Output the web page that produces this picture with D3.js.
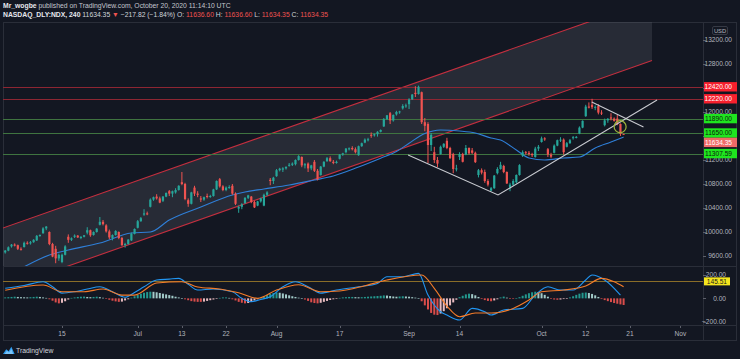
<!DOCTYPE html>
<html>
<head>
<meta charset="utf-8">
<script src="https://cdn.jsdelivr.net/npm/d3@7/dist/d3.min.js"></script>
<style>
  html, body { margin: 0; padding: 0; background: #131722; }
  svg { display: block; font-family: "Liberation Sans", Arial, sans-serif; }
</style>
</head>
<body>
<div id="chart"></div>
<script>
// NASDAQ_DLY:NDX, 240 min bars, Jun 2 – Oct 20 2020 (two bars per session)
const candles = [
  [9660,9700,9640,9690],[9690,9760,9680,9745],
  [9760,9800,9740,9790],[9790,9810,9760,9785],
  [9780,9790,9700,9720],[9720,9745,9690,9710],
  [9750,9840,9740,9820],[9820,9845,9790,9815],
  [9810,9850,9790,9830],[9830,9880,9820,9870],
  [9860,9950,9850,9935],[9935,9960,9920,9950],
  [9980,10080,9970,10060],[10060,10100,10030,10090],
  [10000,10010,9780,9800],[9800,9820,9580,9590],
  [9720,9770,9480,9560],[9560,9640,9520,9620],
  [9500,9640,9480,9620],[9620,9780,9610,9760],
  [9920,9960,9820,9870],[9870,9910,9850,9895],
  [9920,9960,9900,9940],[9940,9950,9900,9910],
  [9900,9930,9880,9920],[9920,9950,9910,9945],
  [9990,10080,9960,10030],[10030,10040,9920,9945],
  [9950,10010,9940,10000],[10000,10065,9990,10056],
  [10120,10250,10110,10170],[10170,10200,10110,10131],
  [10110,10130,9990,10010],[10010,10040,9880,9910],
  [9900,9960,9860,9950],[9950,10030,9940,10017],
  [10000,10010,9880,9900],[9900,9920,9770,9780],
  [9790,9820,9740,9800],[9800,9880,9790,9874],
  [9860,9990,9850,9970],[9970,10060,9960,10050],
  [10070,10200,10060,10180],[10180,10250,10170,10230],
  [10290,10380,10270,10310],[10310,10340,10280,10300],
  [10420,10560,10410,10540],[10540,10590,10520,10580],
  [10590,10630,10540,10560],[10560,10590,10480,10490],
  [10520,10600,10500,10590],[10590,10660,10580,10650],
  [10680,10700,10600,10640],[10640,10690,10580,10680],
  [10660,10730,10640,10700],[10700,10780,10690,10770],
  [10830,11000,10780,10800],[10800,10820,10530,10550],
  [10530,10560,10420,10470],[10470,10670,10460,10660],
  [10740,10770,10600,10640],[10640,10680,10580,10620],
  [10560,10600,10500,10540],[10540,10590,10520,10580],
  [10600,10640,10560,10590],[10590,10620,10570,10600],
  [10600,10720,10590,10710],[10710,10860,10700,10850],
  [10880,10900,10740,10760],[10760,10780,10680,10700],
  [10700,10760,10680,10740],[10740,10780,10720,10750],
  [10770,10800,10620,10640],[10640,10660,10450,10470],
  [10390,10440,10320,10420],[10420,10480,10380,10460],
  [10480,10580,10470,10570],[10570,10620,10550,10610],
  [10590,10600,10480,10500],[10500,10520,10400,10410],
  [10440,10520,10430,10510],[10510,10570,10490,10560],
  [10440,10640,10430,10620],[10620,10680,10600,10660],
  [10870,10900,10780,10850],[10850,10920,10800,10905],
  [10930,11050,10920,11030],[11030,11070,11010,11055],
  [11040,11080,11000,11060],[11060,11095,11040,11085],
  [11110,11150,11090,11120],[11120,11160,11100,11140],
  [11130,11210,11110,11200],[11200,11280,11190,11265],
  [11250,11260,11080,11110],[11110,11150,11060,11130],
  [11140,11160,11000,11060],[11060,11120,11030,11110],
  [11170,11200,11000,11020],[11020,11050,10860,10880],
  [10950,11100,10940,11090],[11090,11180,11080,11170],
  [11180,11250,11170,11230],[11230,11260,11170,11180],
  [11170,11200,11130,11150],[11150,11190,11140,11170],
  [11220,11300,11210,11290],[11290,11320,11270,11310],
  [11330,11400,11310,11390],[11390,11410,11360,11395],
  [11400,11430,11360,11380],[11380,11410,11310,11330],
  [11280,11440,11270,11430],[11430,11490,11420,11480],
  [11490,11560,11480,11540],[11540,11570,11510,11545],
  [11620,11660,11570,11610],[11610,11640,11590,11630],
  [11630,11680,11590,11670],[11670,11710,11660,11700],
  [11760,11900,11750,11880],[11880,11950,11870,11945],
  [11980,12000,11800,11860],[11860,11960,11840,11950],
  [11960,12020,11940,12000],[12000,12020,11970,12010],
  [12060,12130,12040,12100],[12100,12140,12070,12110],
  [12130,12230,12050,12210],[12210,12300,12200,12290],
  [12320,12430,12250,12300],[12300,12440,12290,12420],
  [12330,12340,11800,11830],[11830,11900,11680,11770],
  [11800,11830,11150,11450],[11450,11650,11350,11620],
  [11330,11420,11150,11200],[11200,11250,11080,11140],
  [11300,11440,11290,11420],[11420,11480,11400,11470],
  [11520,11570,11380,11400],[11400,11420,11220,11230],
  [11300,11320,10980,11050],[11050,11120,11010,11060],
  [11250,11330,11200,11300],[11300,11320,11160,11170],
  [11290,11450,11280,11400],[11400,11410,11290,11310],
  [11360,11400,11300,11320],[11320,11340,11150,11165],
  [10950,11050,10910,11030],[11030,11060,10960,10990],
  [11000,11040,10820,10850],[10850,10880,10760,10790],
  [10690,10750,10677,10730],[10730,10950,10720,10940],
  [10980,11080,10960,11050],[11050,11170,11040,11120],
  [11100,11120,10980,11000],[11000,11010,10800,10810],
  [10740,10820,10680,10790],[10790,10880,10770,10850],
  [10830,10960,10810,10950],[10950,11130,10940,11115],
  [11270,11360,11250,11330],[11330,11350,11290,11325],
  [11320,11350,11270,11300],[11300,11320,11250,11280],
  [11250,11420,11240,11390],[11390,11450,11350,11420],
  [11500,11590,11490,11560],[11560,11580,11520,11550],
  [11380,11400,11250,11290],[11290,11320,11230,11255],
  [11320,11460,11310,11440],[11440,11540,11430,11530],
  [11540,11580,11500,11540],[11540,11560,11290,11330],
  [11420,11500,11410,11480],[11480,11550,11470,11530],
  [11570,11600,11540,11580],[11580,11600,11560,11585],
  [11640,11760,11630,11740],[11740,11860,11730,11853],
  [11930,12120,11920,12090],[12090,12160,12060,12088],
  [12120,12220,12050,12080],[12080,12110,12030,12086],
  [12100,12130,11960,11990],[11990,12030,11950,11980],
  [11780,11890,11760,11860],[11860,11900,11820,11886],
  [11910,11980,11860,11890],[11890,11910,11840,11852],
  [11890,11950,11780,11800],[11800,11810,11600,11634.35],
  [11636.6,11636.6,11634.35,11634.35]
];

// moving average: [bar, price]
const maPoints = [
  [6,9420],[14,9617],[20,9700],[30,9817],[40,9983],[46,10000],[52,10200],
  [62,10417],[72,10617],[76,10667],[82,10717],[90,10783],[98,10867],[104,10933],
  [112,11083],[119,11230],[124,11340],[128,11480],[133,11640],[138,11700],
  [144,11683],[149,11650],[154,11567],[157,11533],[162,11367],[166,11233],
  [171,11200],[177,11233],[182,11250],[187,11400],[192,11500],[196,11583]
];

// MACD pane: [bar, value]
const macdLine = [
  [0,86],[6,110],[12,142],[15,100],[18,45],[22,57],[26,80],[30,99],[34,57],[38,9],
  [41,50],[44,99],[48,157],[52,165],[55,171],[58,120],[61,71],[66,80],[72,57],[75,0],
  [78,-29],[81,-10],[84,14],[88,99],[92,142],[96,99],[100,45],[105,71],[112,99],
  [118,128],[121,185],[126,185],[131,214],[134,28],[138,-115],[140,-143],[144,-186],
  [148,-86],[152,-115],[154,-143],[158,-100],[164,-86],[168,28],[172,99],[176,71],
  [180,71],[184,157],[186,200],[190,157],[195,28]
];
const signalLine = [
  [0,70],[12,114],[18,57],[25,57],[31,80],[37,28],[41,28],[48,131],[56,142],[61,97],
  [68,80],[74,48],[80,0],[86,71],[93,117],[100,57],[106,63],[114,108],[121,157],
  [132,200],[136,86],[140,-66],[144,-157],[149,-126],[154,-126],[161,-86],[166,-14],
  [170,57],[177,71],[184,106],[189,171],[193,142],[196,99]
];
const histogram = [
  8,10,12,14,12,10,9,8,10,12,14,12,8,4,
  -8,-20,-35,-43,-38,-25,-10,
  4,8,12,14,15,12,10,12,14,10,5,
  -5,-12,-20,-26,-30,-28,-18,-8,
  6,18,30,40,48,54,57,56,52,46,40,34,28,22,14,8,2,
  -8,-16,-24,-28,-30,-30,-28,-22,-16,-10,-4,
  4,8,8,4,
  -8,-18,-30,-38,-43,-40,-30,-18,-8,
  6,16,28,38,45,50,48,42,34,26,18,12,6,2,
  -10,-22,-34,-40,-43,-38,-30,-22,-14,-8,-3,
  4,8,10,12,12,10,9,10,12,14,16,18,20,22,25,24,20,16,14,16,18,16,14,10,6,2,
  -25,-60,-95,-125,-140,-143,-130,-110,-85,-60,-35,-12,
  10,22,34,40,36,26,12,
  -6,-15,-22,-25,-18,-8,
  8,15,
  6,-4,-5,2,
  10,22,34,44,52,57,54,44,30,14,
  -4,-10,-12,-10,-6,-2,
  8,18,30,40,48,50,46,38,26,12,
  -6,-15,-24,-32,-40,-46,-52,-57
];
const macdLevel = 145.51;

// drawings: [bar, price]
const channelUpper = [[-2,10043],[205,13873]];
const channelLower = [[-2,9027],[205,12857]];
const trendV = [[127.7,11283],[156.2,10617],[206.6,12200]];
const trendDown = [[185.9,12167],[202.3,11750]];
const circleAt = [194.9,11755];

// horizontal levels
const levelPrices = [12420, 12220, 11890, 11650, 11307.59];
const levelKinds = ['res','res','sup','sup','sup'];
const lastPrice = 11634.35;

// axes
const priceTicks = [9600,10000,10400,10800,11200,11600,12000,12400,12800,13200];
const macdTicks = [-200, 0, 200];
const timeTickBars = [18,42,56,70,86,106,128,144,170,184,198,214];
const timeTickLabels = ['15','Jul','13','22','Aug','17','Sep','14','Oct','12','21','Nov'];

// header
const ohlcNames = ['O','H','L','C'];
const ohlcValues = ['11636.60','11636.60','11634.35','11634.35'];

const W = 740, H = 359;
const L = 3, R = 703, FR = 737;
const paneTop = 22, paneBottom = 266, macdTop = 267, macdBottom = 325, axisBottom = 341;

const bg = '#131722', frame = '#2a2e39', textCol = '#b2b5be';
const upCol = '#26a69a', downCol = '#ef5350';

const svg = d3.select('#chart').append('svg').attr('width', W).attr('height', H);
svg.append('rect').attr('width', W).attr('height', H).attr('fill', bg);

const x = d3.scaleLinear().domain([0, 196]).range([5.2, 623.6]);
const y = d3.scaleLinear().domain([9600, 13200]).range([256, 40]);
const ym = d3.scaleLinear().domain([-200, 200]).range([321.7, 275]);

const defs = svg.append('defs');
defs.append('clipPath').attr('id', 'priceClip').append('rect')
  .attr('x', L).attr('y', paneTop).attr('width', R - L).attr('height', paneBottom - paneTop);
defs.append('clipPath').attr('id', 'macdClip').append('rect')
  .attr('x', L).attr('y', macdTop).attr('width', R - L).attr('height', macdBottom - macdTop);

// frame
svg.append('rect').attr('x', L + 0.5).attr('y', paneTop + 0.5)
  .attr('width', FR - L - 1).attr('height', axisBottom - paneTop - 1)
  .attr('fill', 'none').attr('stroke', frame);
svg.append('line').attr('x1', R + 0.5).attr('x2', R + 0.5).attr('y1', paneTop).attr('y2', axisBottom)
  .attr('stroke', frame);
[paneBottom + 0.5, macdBottom + 0.5].forEach(v => {
  svg.append('line').attr('x1', L).attr('x2', FR).attr('y1', v).attr('y2', v).attr('stroke', frame);
});

// ---------- price pane ----------
const pp = svg.append('g').attr('clip-path', 'url(#priceClip)');
const px = d => x(d[0]), py = d => y(d[1]);

// parallel channel
const chanPoly = channelUpper.concat(channelLower.slice().reverse());
pp.append('path').attr('d', d3.line().x(px).y(py)(chanPoly) + 'Z')
  .attr('fill', 'rgba(120,123,134,0.2)');
[channelUpper, channelLower].forEach(seg => {
  pp.append('path').attr('d', d3.line().x(px).y(py)(seg))
    .attr('fill', 'none').attr('stroke', '#c42f3f').attr('stroke-width', 1.1);
});

// horizontal levels
const levelStyle = { res: '#8e2633', sup: '#3f7440' };
pp.selectAll('.lvl').data(levelPrices).enter().append('line')
  .attr('x1', L).attr('x2', R)
  .attr('y1', d => Math.round(y(d)) + 0.5).attr('y2', d => Math.round(y(d)) + 0.5)
  .attr('stroke', (d, i) => levelStyle[levelKinds[i]]).attr('stroke-width', 1);

// moving average
pp.append('path').datum(maPoints)
  .attr('d', d3.line().x(px).y(py).curve(d3.curveMonotoneX))
  .attr('fill', 'none').attr('stroke', '#2f7fd8').attr('stroke-width', 1.1);

// candles
const cg = pp.append('g');
cg.selectAll('.wick').data(candles).enter().append('rect')
  .attr('x', (d, i) => x(i) - 0.5).attr('width', 1)
  .attr('y', d => y(d[1])).attr('height', d => Math.max(1, y(d[2]) - y(d[1])))
  .attr('fill', d => d[3] >= d[0] ? upCol : downCol);
cg.selectAll('.body').data(candles).enter().append('rect')
  .attr('x', (d, i) => x(i) - 1.1).attr('width', 2.2)
  .attr('y', d => y(Math.max(d[0], d[3])))
  .attr('height', d => Math.max(1, Math.abs(y(d[0]) - y(d[3]))))
  .attr('fill', d => d[3] >= d[0] ? upCol : downCol);

// trend lines
[trendV, trendDown].forEach(seg => {
  pp.append('path').attr('d', d3.line().x(px).y(py)(seg))
    .attr('fill', 'none').attr('stroke', '#c9cbd1').attr('stroke-width', 1.1);
});
pp.append('circle').attr('cx', x(circleAt[0])).attr('cy', y(circleAt[1])).attr('r', 6)
  .attr('fill', 'none').attr('stroke', '#9fb43c').attr('stroke-width', 1.2);

// level labels with simple collision push-down
const boxH = 9.4;
const labelStyle = {
  res: { fill: '#f7202d', text: '#ffffff' },
  sup: { fill: '#1fe51f', text: '#0b1a0b' },
  last: { fill: '#ef6a67', text: '#ffffff' }
};
const labels = levelPrices.map((p, i) => ({ p, kind: levelKinds[i], txt: d3.format('.2f')(p) }))
  .concat([{ p: lastPrice, kind: 'last', txt: d3.format('.2f')(lastPrice) }])
  .sort((a, b) => b.p - a.p);
let prevBottom = -Infinity;
labels.forEach(l => {
  let cy = y(l.p);
  if (cy - boxH / 2 < prevBottom) cy = prevBottom + boxH / 2;
  l.cy = cy;
  prevBottom = cy + boxH / 2;
});

// price axis (tick texts mostly hidden under a label are skipped)
const visibleTicks = priceTicks.filter(t => !labels.some(l => Math.abs(y(t) - l.cy) < 5));
const ax = svg.append('g').style('font-size', '6.6px');
ax.selectAll('.pt').data(visibleTicks).enter().append('text')
  .attr('x', 732).attr('y', d => y(d)).attr('dy', '0.35em')
  .attr('text-anchor', 'end').attr('fill', textCol).text(d => d3.format('.2f')(d));
ax.selectAll('.ptk').data(priceTicks).enter().append('line')
  .attr('x1', R).attr('x2', R + 3).attr('y1', d => Math.round(y(d)) + 0.5).attr('y2', d => Math.round(y(d)) + 0.5)
  .attr('stroke', '#5d606b');

// USD box
svg.append('rect').attr('x', 712.5).attr('y', 26.5).attr('width', 15).attr('height', 8).attr('rx', 1.5)
  .attr('fill', bg).attr('stroke', '#363a45');
svg.append('text').attr('x', 720).attr('y', 30.5).attr('dy', '0.35em').attr('text-anchor', 'middle')
  .attr('fill', textCol).style('font-size', '5.8px').text('USD');

const lg = svg.append('g').style('font-size', '6.6px');
lg.selectAll('rect').data(labels).enter().append('rect')
  .attr('x', R + 1).attr('y', d => d.cy - boxH / 2).attr('width', FR - R - 1).attr('height', boxH)
  .attr('fill', d => labelStyle[d.kind].fill);
lg.selectAll('text').data(labels).enter().append('text')
  .attr('x', 732).attr('y', d => d.cy).attr('dy', '0.35em').attr('text-anchor', 'end')
  .attr('fill', d => labelStyle[d.kind].text).text(d => d.txt);

// ---------- MACD pane ----------
const mp = svg.append('g').attr('clip-path', 'url(#macdClip)');
const hColor = (v, i) => {
  const prev = i > 0 ? histogram[i - 1] : v;
  if (v >= 0) return v >= prev ? '#26a69a' : '#b2dfdb';
  return v <= prev ? '#ef5350' : '#ffcdd2';
};
mp.selectAll('.hist').data(histogram).enter().append('rect')
  .attr('x', (d, i) => x(i) - 1).attr('width', 2)
  .attr('y', d => Math.min(ym(d), ym(0)))
  .attr('height', d => Math.max(0.6, Math.abs(ym(d) - ym(0))))
  .attr('fill', (d, i) => hColor(d, i)).attr('opacity', 0.9);

mp.append('line').attr('x1', L).attr('x2', R)
  .attr('y1', Math.round(ym(macdLevel)) + 0.5).attr('y2', Math.round(ym(macdLevel)) + 0.5)
  .attr('stroke', '#8a6d28').attr('stroke-width', 1);

const mline = d3.line().x(px).y(d => ym(d[1])).curve(d3.curveMonotoneX);
mp.append('path').attr('d', mline(macdLine)).attr('fill', 'none')
  .attr('stroke', '#2196f3').attr('stroke-width', 1.1);
mp.append('path').attr('d', mline(signalLine)).attr('fill', 'none')
  .attr('stroke', '#f57c2a').attr('stroke-width', 1.1);

const mx = svg.append('g').style('font-size', '6.6px');
mx.selectAll('text').data(macdTicks).enter().append('text')
  .attr('x', 726).attr('y', d => ym(d)).attr('dy', '0.35em').attr('text-anchor', 'end')
  .attr('fill', textCol).text(d => d3.format('.2f')(d).replace('-', '\u2212'));
mx.selectAll('line').data(macdTicks).enter().append('line')
  .attr('x1', R).attr('x2', R + 3).attr('y1', d => Math.round(ym(d)) + 0.5).attr('y2', d => Math.round(ym(d)) + 0.5)
  .attr('stroke', '#5d606b');
svg.append('rect').attr('x', R + 1).attr('y', ym(macdLevel) - 4).attr('width', 26).attr('height', 8)
  .attr('fill', '#f5e61e');
svg.append('text').attr('x', 727).attr('y', ym(macdLevel)).attr('dy', '0.35em').attr('text-anchor', 'end')
  .attr('fill', '#1a1a1a').style('font-size', '6.6px').text(d3.format('.2f')(macdLevel));

// ---------- time axis ----------
const tg = svg.append('g').style('font-size', '6.6px');
tg.selectAll('text').data(timeTickLabels).enter().append('text')
  .attr('x', (d, i) => x(timeTickBars[i])).attr('y', 333.5).attr('dy', '0.35em')
  .attr('text-anchor', 'middle').attr('fill', textCol).text(d => d);
tg.selectAll('line').data(timeTickBars).enter().append('line')
  .attr('x1', d => Math.round(x(d)) + 0.5).attr('x2', d => Math.round(x(d)) + 0.5)
  .attr('y1', macdBottom + 1).attr('y2', macdBottom + 3).attr('stroke', '#5d606b');

// ---------- header ----------
const h1 = svg.append('text').attr('x', 3).attr('y', 6).attr('dy', '0.35em').style('font-size', '6.8px');
h1.append('tspan').attr('fill', '#e6e8ee').attr('font-weight', 'bold').text('Mr_wogbe');
h1.append('tspan').attr('fill', '#c3c6ce').text(' published on TradingView.com, October 20, 2020 11:14:10 UTC');

const h2 = svg.append('text').attr('x', 3).attr('y', 15).attr('dy', '0.35em').style('font-size', '6.8px');
h2.append('tspan').attr('fill', '#e6e8ee').attr('font-weight', 'bold').text('NASDAQ_DLY:NDX, 240');
h2.append('tspan').attr('fill', '#d1d4dc').text(' ' + d3.format('.2f')(lastPrice) + ' ');
h2.append('tspan').attr('fill', '#ef5350').text('\u25BC');
h2.append('tspan').attr('fill', '#d1d4dc').text(' \u2212217.82 (\u22121.84%) ');
ohlcNames.forEach((n, i) => {
  h2.append('tspan').attr('fill', '#d1d4dc').text((i ? ' ' : '') + n + ': ');
  h2.append('tspan').attr('fill', '#ef5350').text(ohlcValues[i]);
});

// ---------- footer ----------
const logo = svg.append('g').attr('transform', 'translate(3,346)');
logo.append('path').attr('d', 'M0,8 L3.2,3.2 L5.6,5.2 L8.4,0.8 L11.6,8 Z').attr('fill', '#2d9cf0');
logo.append('path').attr('d', 'M1.6,8 L4,4.8 L6,6.4 L8.4,3 L10.2,8 Z').attr('fill', '#7cc4f8');
svg.append('text').attr('x', 16).attr('y', 350.5).attr('dy', '0.35em')
  .attr('fill', '#d1d4dc').style('font-size', '6.8px').text('TradingView');
</script>
</body>
</html>
